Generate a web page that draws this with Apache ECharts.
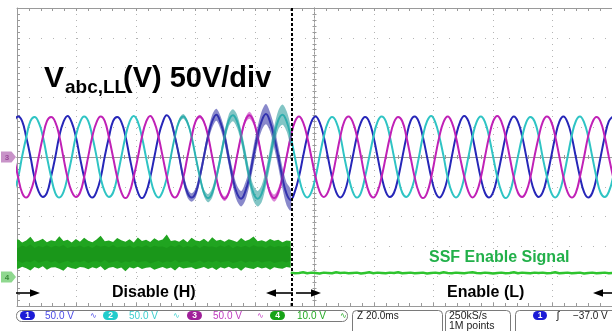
<!DOCTYPE html>
<html><head><meta charset="utf-8">
<script src="https://cdn.jsdelivr.net/npm/echarts@6/dist/echarts.min.js"></script>
<style>html,body{margin:0;padding:0;background:#fff}#c{width:612px;height:331px}</style>
</head><body><div id="c"></div>
<script>
// sample clock of the scope record (ms, 0 = screen centre)
const T0 = -101.05, DT = 1.388889;
const T_TRIG = -7.67;
const RIP0 = 38;      // first sample index of ripple region
const TRIG_I = 67;    // sample index at trigger

// Channel 1 (blue), 2 (cyan), 3 (magenta), volts
const ch1 = [58,68,60,33,1,-35,-58,-67,-60,-33,-1,35,
 59,69,58,34,-1,-34,-60,-68,-58,-35,1,33,
 60,67,59,35,0,-33,-59,-69,-59,-34,0,34,
 58,70,60,33,1,-35,-60,-68,-60,-33,1,35,
 60,71,58,34,-2,-36,-61,-70,-58,-34,2,36,
 61,72,59,33,0,-35,-62,-72,-58,-33,1,34,
 59,68,58,34,0,-34,-59,-68,-59,-34,0,34,
 58,67,59,35,1,-33,-58,-67,-60,-35,-1,33,
 60,68,59,33,0,-34,-59,-68,-58,-34,1,35,
 59,69,60,34,-1,-35,-60,-68,-59,-33,0,34,
 58,68,59,35,1,-34,-58,-67,-59,-34,-1,33,
 59,68,58,34,0,-33,-59,-68,-60,-35,0,34,
 60,68];
const ch2 = [-58,-35,1,33,60,67,58,35,0,-33,-60,-68,
 -59,-33,-1,35,58,68,60,34,1,-35,-58,-67,
 -60,-34,0,34,59,69,59,33,-1,-34,-59,-68,
 -58,-35,1,35,60,68,58,34,0,-33,-60,-69,
 -60,-34,-1,34,61,70,60,35,1,-35,-61,-70,
 -61,-35,0,35,62,71,60,34,0,-34,-59,-68,
 -59,-34,1,34,58,67,59,35,-1,-33,-58,-68,
 -60,-33,0,33,59,68,60,34,0,-34,-60,-67,
 -58,-35,-1,35,60,69,58,33,1,-35,-59,-68,
 -59,-34,0,34,59,68,59,34,0,-34,-58,-69,
 -60,-33,1,33,58,67,60,35,-1,-33,-59,-68,
 -59,-34,0,35,60,68,58,34,0,-34,-60,-67,
 -58,-34];
const ch3 = [1,-33,-60,-68,-58,-35,0,33,60,67,59,35,
 -1,-35,-58,-67,-60,-34,1,35,58,68,60,33,
 0,-34,-59,-69,-59,-33,-1,34,59,69,58,34,
 1,-33,-60,-68,-58,-35,0,33,60,68,59,35,
 0,-35,-61,-70,-60,-34,1,35,61,70,60,34,
 -1,-34,-60,-69,-59,-34,0,34,59,68,58,33,
 0,-33,-58,-67,-59,-35,-1,34,60,68,59,35,
 1,-35,-60,-68,-58,-33,0,33,58,67,60,34,
 0,-34,-59,-69,-60,-34,1,35,59,68,58,33,
 -1,-33,-58,-68,-59,-35,0,34,60,69,59,34,
 0,-35,-60,-67,-58,-34,1,33,59,68,60,35,
 1,-34,-59,-68,-60,-33,0,35,58,67,59,34,
 0,-33];
// switching ripple half-width (V) before the trigger, samples RIP0..TRIG_I
const rip1 = [5,6,7,8,8,7,8,9,9,10,11,10,11,12,12,13,13,13,15,14,16,15,16,17,16,18,17,18,19,18];
const rip2 = [3,3,4,4,4,5,5,6,6,7,8,8,9,9,10,10,11,11,12,12,13,13,14,14,15,16,16,17,17,16];
const rip3 = [1,1,2,2,2,2,3,3,3,3,3,4,4,4,4,5,5,5,5,6,6,6,6,6,6,6,7,7,6,6];

// Channel 4 (SSF enable, V): noisy high band before trigger, low after
const ch4Hi = [11.6,12.4,11.3,12.0,13.2,11.5,11.9,12.6,11.4,12.1,
 11.7,13.4,11.8,12.2,11.3,12.5,11.6,12.9,11.9,11.4,
 12.3,13.6,11.7,12.0,11.5,12.8,12.1,11.6,12.4,11.3,
 13.0,11.8,12.2,11.5,12.7,11.9,12.3,14.0,11.8,12.1,
 11.6,12.5,11.4,12.9,12.0,11.7,12.6,11.5,13.1,11.9,
 12.2,11.6,12.4,12.0,11.5,12.8,11.8,12.3,13.3,11.7,
 12.1,11.6,12.5,11.9,12.2,11.4,12.0,11.8];
const ch4Lo = [3.0,2.4,3.2,2.7,1.9,3.1,2.6,3.3,2.2,2.9,
 3.0,2.5,1.8,3.2,2.7,2.4,3.1,2.9,2.3,3.0,
 2.6,3.3,2.0,2.8,3.1,2.5,2.9,1.7,3.0,2.6,
 3.2,2.4,2.8,3.0,2.2,2.7,3.1,2.5,2.9,1.9,
 3.2,2.6,2.8,3.0,2.3,2.7,3.1,2.4,2.9,2.1,
 3.0,2.6,3.2,2.5,2.8,1.8,3.0,2.7,2.4,3.1,
 2.6,2.9,2.2,3.0,2.7,2.5,3.1,2.8];
const ch4CoreHi = [10.0,9.4,10.3,9.8,10.6,9.5,10.1,9.7,10.4,9.6,
 10.2,9.9,10.5,9.4,10.0,9.8,10.3,9.6,10.1,9.5,
 10.4,9.9,10.2,9.7,10.5,9.6,10.0,9.8,10.3,9.5,
 10.1,9.7,10.4,9.6,10.2,9.9,10.0,9.5,10.3,9.8,
 10.6,9.6,10.1,9.7,10.4,9.5,10.2,9.9,10.0,9.6,
 10.3,9.8,10.5,9.4,10.1,9.7,10.2,9.6,10.4,9.9,
 10.0,9.5,10.3,9.7,10.1,9.8,10.2,9.6];
const ch4CoreLo = [4.6,5.2,4.4,5.0,4.7,5.4,4.5,4.9,5.3,4.6,
 5.1,4.3,4.8,5.2,4.5,5.0,4.7,5.3,4.4,4.9,
 5.1,4.6,5.4,4.5,4.8,5.2,4.4,5.0,4.7,5.3,
 4.6,4.9,5.1,4.3,4.8,5.2,4.5,5.0,4.7,5.4,
 4.6,4.9,5.1,4.4,4.8,5.3,4.5,5.0,4.7,5.2,
 4.6,4.9,5.1,4.4,4.8,5.3,4.5,5.0,4.7,5.2,
 4.6,4.9,5.1,4.4,4.8,5.0,4.6,5.2];
const ch4After = [1.2,1.0,1.1,1.3,1.0,1.2,1.1,0.9,1.2,1.1,
 1.0,1.3,1.1,1.2,1.0,1.1,1.2,0.9,1.1,1.3,
 1.0,1.2,1.1,1.0,1.2,1.1,1.3,1.0,1.1,1.2,
 1.0,1.1,1.2,0.9,1.1,1.2,1.0,1.3,1.1,1.0,
 1.2,1.1,1.0,1.2,1.3,1.1,1.0,1.2,1.1,0.9,
 1.1,1.2,1.0,1.1,1.3,1.0,1.2,1.1,1.0,1.2,
 1.1,1.2,1.0,1.1,1.3,1.0,1.1,1.2,1.0,1.1,
 1.2,0.9,1.1,1.2,1.0,1.1,1.2,1.0,1.1];

// status bar texts
const chScaleLabels = ['50.0 V','50.0 V','50.0 V','10.0 V'];
const chNames = ['1','2','3','4'];
const timeLabel = 'Z 20.0ms';
const rateLabels = ['250kS/s','1M points'];
const trigLabel = '\u221237.0 V';

const C_BLUE = '#2626b8', C_CYAN = '#2fc4c4', C_MAG = '#c021b6';
const FONT = '"Liberation Sans", Arial, sans-serif';

const P = (arr, off) => arr.map((v, k) => [T0 + (off + k) * DT, v]);

function traceSeries(arr, color) {
  return {type: 'line', data: P(arr, 0), xAxisIndex: 0, yAxisIndex: 0, symbol: 'none',
    smooth: 0.45, lineStyle: {color, width: 2}, silent: true, z: 3};
}
function bandSeries(lo, hi, off, fill, opacity, yIdx, smooth, z) {
  const data = lo.map((v, k) => [T0 + (off + k) * DT, v, hi[k]]);
  return {type: 'custom', xAxisIndex: 0, yAxisIndex: yIdx, silent: true, clip: true, z: z,
    encode: {x: 0, y: [1, 2]}, data,
    renderItem(params, api) {
      if (params.dataIndex !== 0) return null;
      const up = data.map(d => api.coord([d[0], d[2]]));
      const dn = data.map(d => api.coord([d[0], d[1]])).reverse();
      return {type: 'polygon', shape: {points: up.concat(dn), smooth: smooth},
        style: {fill: fill, opacity: opacity}};
    }};
}
function ripple(ch, rip, color, op) {
  const base = ch.slice(RIP0, RIP0 + rip.length);
  return bandSeries(base.map((v, k) => v - rip[k]), base.map((v, k) => v + rip[k]), RIP0,
    color, op, 0, 0.3, 4);
}

const series = [
  bandSeries(ch4Lo, ch4Hi, 0, '#20a420', 1, 1, 0, 2),
  bandSeries(ch4CoreLo, ch4CoreHi, 0, '#168c16', 0.55, 1, 0, 2),
  traceSeries(ch1, C_BLUE),
  traceSeries(ch2, C_CYAN),
  traceSeries(ch3, C_MAG),
  ripple(ch3, rip3, C_MAG, 0.55),
  ripple(ch1, rip1, '#3a3aa8', 0.6),
  ripple(ch2, rip2, '#2f9f9f', 0.6),
  {type: 'line', data: P(ch4After, TRIG_I), xAxisIndex: 0, yAxisIndex: 1, symbol: 'none',
   lineStyle: {color: '#2ec42e', width: 2.5}, silent: true, z: 5,
   markLine: {symbol: ['none', 'none'], silent: true, label: {show: false},
     lineStyle: {color: '#000', width: 2, type: [3, 2]}, data: [{xAxis: T_TRIG}]}}
];

const GRAY = '#9a9a9a';
const frameX = (pos, splitShow) => ({type: 'value', min: -100, max: 100, interval: 20, position: pos,
  axisLine: {show: true, onZero: false, lineStyle: {color: GRAY}},
  axisTick: {show: true, inside: true, length: 3, lineStyle: {color: GRAY}},
  minorTick: {show: true, splitNumber: 5, length: 3, lineStyle: {color: GRAY}},
  axisLabel: {show: false},
  splitLine: {show: splitShow, lineStyle: {color: '#b4b4b4', type: [1, 5]}}});
const centreX = (inside) => ({type: 'value', min: -100, max: 100, interval: 4,
  axisLine: {show: true, onZero: true, onZeroAxisIndex: 0, lineStyle: {color: GRAY}},
  axisTick: {show: true, inside, length: 2, lineStyle: {color: GRAY}},
  axisLabel: {show: false}, splitLine: {show: false}});
const centreY = (inside) => ({type: 'value', min: -250, max: 250, interval: 10,
  axisLine: {show: true, onZero: true, onZeroAxisIndex: 0, lineStyle: {color: GRAY, type: [2, 2]}},
  axisTick: {show: true, inside, length: 2, lineStyle: {color: GRAY}},
  axisLabel: {show: false}, splitLine: {show: false}});

const g = [];
function txt(x, y, text, size, color, weight, align) {
  g.push({type: 'text', x, y, silent: true, z: 100,
    style: {text, font: (weight || 'normal') + ' ' + size + 'px ' + FONT, fill: color,
      align: align || 'left', verticalAlign: 'middle'}});
}
function arrow(x1, x2, y) {
  const d = Math.sign(x2 - x1);
  g.push({type: 'line', z: 100, silent: true, shape: {x1, y1: y, x2: x2 - d * 5, y2: y}, style: {stroke: '#000', lineWidth: 1.6}});
  g.push({type: 'polygon', z: 100, silent: true, shape: {points: [[x2, y], [x2 - d * 10, y - 3.8], [x2 - d * 10, y + 3.8]]}, style: {fill: '#000'}});
}
function rrect(x, y, w, h, r, fill, stroke) {
  g.push({type: 'rect', z: 100, silent: true, shape: {x, y, width: w, height: h, r},
    style: {fill: fill || 'none', stroke: stroke || null, lineWidth: 1}});
}
function tag(y, fill, label, lc) {
  g.push({type: 'polygon', z: 100, silent: true,
    shape: {points: [[1, y - 5.5], [11.5, y - 5.5], [16, y], [11.5, y + 5.5], [1, y + 5.5]]},
    style: {fill}});
  txt(7, y + 0.5, label, 8, lc, 'bold', 'center');
}

// title
txt(44, 79, 'V', 30, '#000', 'bold');
txt(65, 88, 'abc,LL', 19, '#000', 'bold');
txt(123, 79, '(V) 50V/div', 29, '#000', 'bold');
txt(429, 258, 'SSF Enable Signal', 16, '#22b04a', 'bold');
txt(112, 292.5, 'Disable (H)', 16, '#000', 'bold');
txt(447, 292.5, 'Enable (L)', 16, '#000', 'bold');
arrow(16, 40, 293); arrow(293, 266, 293); arrow(296, 321, 293); arrow(615, 593, 293);
tag(157, '#c893c8', '3', '#9a4a9a');
tag(277, '#8fd88f', '4', '#3a8a3a');

// status bar
rrect(16.5, 310.5, 331, 11, 5, '#fff', '#7a7a7a');
const pillX = [20, 103, 187, 270], pillC = ['#1c1cd6', '#22cccc', '#a0209a', '#17a317'];
const valX = [45, 129, 213, 297], valC = ['#4a4ae6', '#3ccfcf', '#c03cc0', '#22aa22'];
const symX = [93, 176, 260, 343];
for (let k = 0; k < 4; k++) {
  rrect(pillX[k], 311, 15, 9, 4.5, pillC[k], null);
  txt(pillX[k] + 7.5, 315.8, chNames[k], 8.5, '#fff', 'bold', 'center');
  txt(valX[k], 316, chScaleLabels[k], 10, valC[k], 'normal');
  txt(symX[k], 316, '\u223f', 8, valC[k], 'normal', 'center');
}
rrect(352.5, 310.5, 90, 30, 4, '#fff', '#7a7a7a');
txt(357, 316, timeLabel, 10, '#222', 'normal');
rrect(445.5, 310.5, 65, 30, 4, '#fff', '#7a7a7a');
txt(449, 316, rateLabels[0], 10.5, '#222', 'normal');
txt(449, 326.5, rateLabels[1], 10.5, '#222', 'normal');
rrect(515.5, 310.5, 120, 30, 4, '#fff', '#7a7a7a');
rrect(533, 311, 14, 9, 4.5, '#1c1cd6', null);
txt(540, 315.8, '1', 8.5, '#fff', 'bold', 'center');
txt(558, 316, '\u0283', 11, '#222', 'normal', 'center');
txt(573, 316, trigLabel, 10, '#222', 'normal');

const chart = echarts.init(document.getElementById('c'), null, {renderer: 'canvas'});
chart.setOption({
  animation: false,
  backgroundColor: '#fff',
  grid: {left: 17, top: 8, width: 600, height: 298, show: false},
  xAxis: [frameX('bottom', true), frameX('top', false), centreX(true), centreX(false)],
  yAxis: [
    {type: 'value', min: -250, max: 250, interval: 50, position: 'left',
     axisLine: {show: true, onZero: false, lineStyle: {color: GRAY}},
     axisTick: {show: true, inside: true, length: 3, lineStyle: {color: GRAY}},
     minorTick: {show: true, splitNumber: 5, length: 3, lineStyle: {color: GRAY}},
     axisLabel: {show: false},
     splitLine: {show: true, lineStyle: {color: '#b4b4b4', type: [1, 11]}}},
    {type: 'value', min: -10, max: 90, interval: 10, show: false, axisLine: {onZero: false}},
    centreY(true), centreY(false)
  ],
  series,
  graphic: g
});
</script></body></html>
